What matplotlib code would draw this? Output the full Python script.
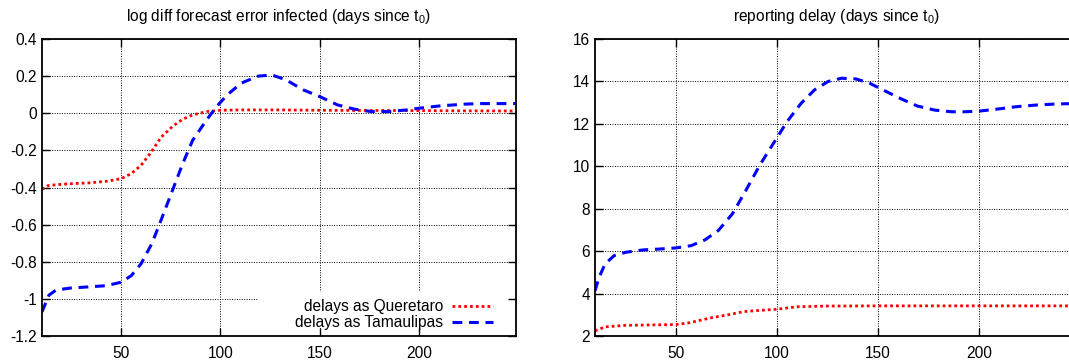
import matplotlib
matplotlib.use("Agg")
import matplotlib.pyplot as plt
from matplotlib.patches import Rectangle
from matplotlib.ticker import FormatStrFormatter, MultipleLocator

plt.rcParams['font.family'] = ['Liberation Sans', 'DejaVu Sans']
plt.rcParams['mathtext.fontset'] = 'custom'
plt.rcParams['mathtext.rm'] = 'Liberation Sans'
plt.rcParams['axes.unicode_minus'] = False

# left panel: log diff forecast error
err_q_days = [10, 13, 17, 24, 34, 43, 50, 55, 60, 65, 70, 76, 81, 86, 93, 100, 110,
              128, 150, 175, 200, 225, 249]
err_q = [-0.41, -0.39, -0.385, -0.38, -0.375, -0.366, -0.352, -0.325, -0.28, -0.21,
         -0.13, -0.069, -0.032, -0.009, 0.009, 0.016, 0.018, 0.018, 0.016, 0.015,
         0.014, 0.013, 0.012]
err_t_days = [10, 13.5, 17, 24, 34, 41, 46, 50, 55, 60, 65.5, 70.6, 75.8, 81, 86, 93,
              98, 103.5, 110.4, 119, 126, 133, 141.7, 150, 159, 167.5, 176, 185, 194,
              200, 211, 223, 231, 249]
err_t = [-1.07, -0.98, -0.953, -0.942, -0.935, -0.93, -0.92, -0.91, -0.875, -0.81,
         -0.70, -0.56, -0.415, -0.27, -0.145, -0.036, 0.036, 0.1, 0.162, 0.2, 0.206,
         0.18, 0.126, 0.09, 0.045, 0.022, 0.009, 0.009, 0.018, 0.027, 0.04, 0.049,
         0.052, 0.052]

# right panel: reporting delay
delay_q_days = [10, 15, 25, 37, 50, 57, 67, 77, 83.5, 92, 100, 110, 125, 150, 200, 249]
delay_q = [2.24, 2.43, 2.5, 2.52, 2.54, 2.63, 2.85, 3.02, 3.15, 3.21, 3.26, 3.38,
           3.41, 3.42, 3.42, 3.42]
delay_t_days = [10, 12, 15, 19.5, 25.4, 34, 42, 50, 57.6, 64.4, 71, 78, 84.7, 91.5,
                98.3, 105, 112, 118.6, 125.4, 132, 139, 145.8, 152.5, 161, 169.5, 178,
                186.4, 193, 200, 208.5, 218.6, 228.8, 239, 249]
delay_t = [4.13, 4.76, 5.4, 5.79, 5.95, 6.06, 6.1, 6.15, 6.26, 6.53, 6.97, 7.76, 8.87,
           10.05, 11.08, 12.1, 12.97, 13.6, 14.0, 14.15, 14.12, 13.92, 13.6, 13.2,
           12.84, 12.65, 12.57, 12.57, 12.6, 12.69, 12.81, 12.89, 12.94, 12.96]

labels = ["delays as Queretaro", "delays as Tamaulipas"]
RED_STYLE = dict(color='#ff0000', lw=2.0, ls=(0, (1, 1.1)))
BLUE_STYLE = dict(color='#0000ff', lw=2.2, ls=(0, (3.2, 2.2)))
FS = 11.2


def style_axes(ax):
    ax.grid(True, color='black', ls=(0, (1, 1.5)), lw=0.7)
    ax.set_axisbelow(True)
    ax.tick_params(direction='in', length=6, width=1, top=True, right=True, labelsize=FS)
    ax.tick_params(axis='x', pad=7)
    for s in ax.spines.values():
        s.set_linewidth(1.3)
    ax.xaxis.set_major_locator(MultipleLocator(50))


fig = plt.figure(figsize=(10.69, 3.6), dpi=100)
ax1 = fig.add_axes([42 / 1069, 24 / 360, 474 / 1069, 297 / 360])
ax2 = fig.add_axes([595 / 1069, 24 / 360, 483 / 1069, 297 / 360])

ax1.plot(err_q_days, err_q, label=labels[0], **RED_STYLE)
ax1.plot(err_t_days, err_t, label=labels[1], **BLUE_STYLE)
ax1.set_xlim(10, 249)
ax1.set_ylim(-1.2, 0.4)
ax1.yaxis.set_major_locator(MultipleLocator(0.2))
ax1.yaxis.set_major_formatter(FormatStrFormatter('%g'))
style_axes(ax1)
ax1.set_title("log diff forecast error infected (days since t$_0$)", fontsize=FS, pad=13)
# key area blanks the grid like gnuplot does
ax1.add_patch(Rectangle((0.456, 0.027), 0.527, 0.121, transform=ax1.transAxes,
                        facecolor='white', edgecolor='none', zorder=1))
ax1.legend(loc='lower right', bbox_to_anchor=(0.951, 0.02), borderaxespad=0,
           borderpad=0, frameon=False, markerfirst=False, handlelength=2.6,
           handletextpad=0.6, labelspacing=0.05, fontsize=FS)

ax2.plot(delay_q_days, delay_q, **RED_STYLE)
ax2.plot(delay_t_days, delay_t, **BLUE_STYLE)
ax2.set_xlim(10, 249)
ax2.set_ylim(2, 16)
ax2.yaxis.set_major_locator(MultipleLocator(2))
style_axes(ax2)
ax2.set_title("reporting delay (days since t$_0$)", fontsize=FS, pad=13)

fig.savefig("out.png", dpi=100)
